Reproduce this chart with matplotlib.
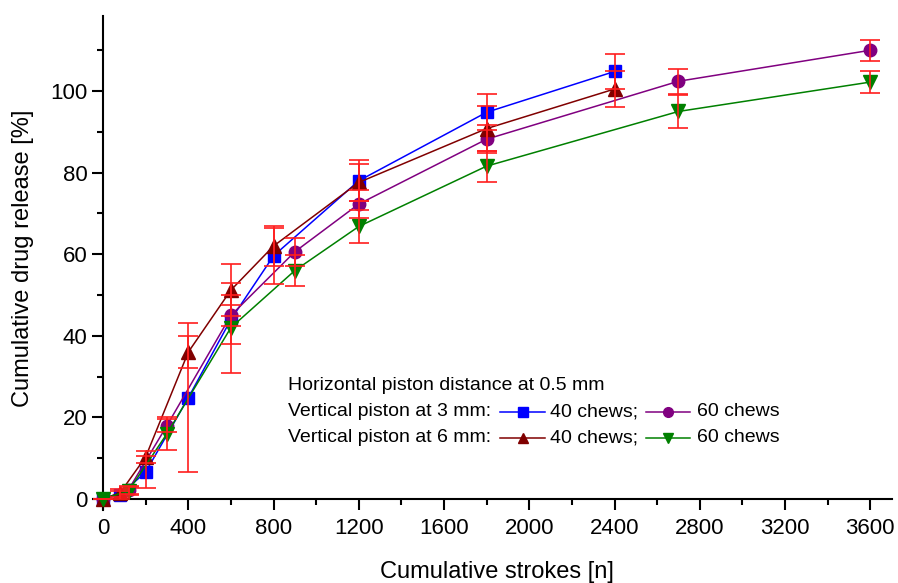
import matplotlib
matplotlib.use("Agg")
import matplotlib.pyplot as plt
from matplotlib.lines import Line2D
from matplotlib.ticker import MultipleLocator

plt.rcParams['font.family'] = ['Liberation Sans', 'DejaVu Sans']

# strokes for the 40-chew and 60-chew runs
strokes_40 = [0, 80, 200, 400, 600, 800, 1200, 1800, 2400]
strokes_60 = [0, 120, 300, 600, 900, 1200, 1800, 2700, 3600]

# vertical piston 3 mm
v3_40 = [0, 1.0, 6.6, 24.8, 44.0, 59.6, 78.0, 94.8, 104.8]
v3_40_err = [0, 1.0, 4.0, 18.3, 6.0, 6.8, 5.0, 4.4, 4.4]
v3_60 = [0, 2.3, 18.0, 45.0, 60.6, 72.3, 88.2, 102.4, 110.0]
v3_60_err = [0, 1.0, 1.6, 2.5, 3.5, 3.5, 3.4, 3.0, 2.6]

# vertical piston 6 mm
v6_40 = [0, 1.5, 10.3, 36.0, 51.2, 62.0, 77.6, 90.8, 100.5]
v6_40_err = [0, 1.0, 1.5, 4.0, 6.3, 5.0, 4.6, 5.5, 4.4]
v6_60 = [0, 2.0, 16.0, 42.0, 56.0, 66.8, 81.6, 95.0, 102.2]
v6_60_err = [0, 1.0, 4.0, 11.0, 3.8, 4.0, 3.8, 4.0, 2.6]

series = [
    (strokes_40, v3_40, v3_40_err, 'blue', 's', 8),
    (strokes_60, v3_60, v3_60_err, 'purple', 'o', 9),
    (strokes_40, v6_40, v6_40_err, '#800000', '^', 10),
    (strokes_60, v6_60, v6_60_err, 'green', 'v', 10),
]

fig = plt.figure(figsize=(8.98, 5.83), dpi=100)
ax = fig.add_axes([93 / 898, 1 - 510 / 583, 799 / 898, 494 / 583])

for x, y, err, col, mk, ms in series:
    ax.plot(x, y, color=col, lw=1.1, marker=mk, ms=ms, mec=col, mfc=col, zorder=3)
    ax.errorbar(x, y, yerr=err, fmt='none', ecolor='#ff1e1e', elinewidth=1.2,
                capsize=7.5, capthick=1.2, zorder=4)

ax.set_xlim(-47, 3702)
ax.set_ylim(-2.7, 118.4)
ax.spines['left'].set_position(('data', 0))
ax.spines['bottom'].set_position(('data', 0))
ax.spines['top'].set_visible(False)
ax.spines['right'].set_visible(False)
for s in ('left', 'bottom'):
    ax.spines[s].set_linewidth(1.5)

ax.xaxis.set_major_locator(MultipleLocator(400))
ax.xaxis.set_minor_locator(MultipleLocator(200))
ax.yaxis.set_major_locator(MultipleLocator(20))
ax.yaxis.set_minor_locator(MultipleLocator(10))
ax.set_yticks([0, 20, 40, 60, 80, 100])
ax.tick_params(which='major', direction='out', length=8, width=1.5, labelsize=16, pad=3)
ax.tick_params(axis='x', which='major', pad=6)
ax.tick_params(which='minor', direction='out', length=4.5, width=1.5)

ax.set_xlabel('Cumulative strokes [n]', fontsize=17)
ax.set_ylabel('Cumulative drug release [%]', fontsize=17)
ax.xaxis.set_label_coords((497 - 93) / 799, (510 - 561) / 494)
ax.yaxis.set_label_coords((34 - 93) / 799, (510 - 258) / 494)

# legend block built from text and sample symbols (figure pixel positions)
W, H = 898, 583


def fx(px):
    return px / W


def fy(py):
    return 1 - py / H


fs = 14
fig.text(fx(288), fy(385), 'Horizontal piston distance at 0.5 mm', fontsize=fs, va='center')
rows = [
    (412, 'Vertical piston at 3 mm:', series[0], series[1]),
    (438, 'Vertical piston at 6 mm:', series[2], series[3]),
]
for py, label, s1, s2 in rows:
    fig.text(fx(288), fy(py), label, fontsize=fs, va='center')
    for (x0, x1, tx, txt), s in (((500, 545, 550, '40 chews;'), s1), ((646, 690, 697, '60 chews'), s2)):
        col, mk = s[3], s[4]
        fig.add_artist(Line2D([fx(x0), fx(x1)], [fy(py), fy(py)], color=col, lw=1.1,
                              transform=fig.transFigure))
        fig.add_artist(Line2D([fx((x0 + x1) / 2)], [fy(py)], color=col, marker=mk, ms=7,
                              mec=col, mfc=col, transform=fig.transFigure))
        fig.text(fx(tx), fy(py), txt, fontsize=fs, va='center')

fig.savefig('out.png', dpi=100)
